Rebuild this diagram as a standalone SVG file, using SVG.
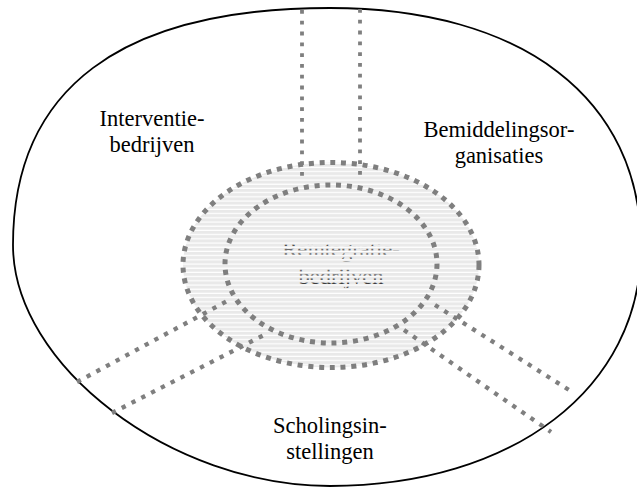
<svg xmlns="http://www.w3.org/2000/svg" width="637" height="487" viewBox="0 0 637 487">
<style>
.lbl{font-family:"Liberation Serif","Times New Roman",serif;font-size:22.5px;fill:#000;text-anchor:middle}
.ring{fill:none;stroke:#7f7f7f;stroke-width:5;stroke-dasharray:5 5.8}
.chan{fill:none;stroke:#7f7f7f;stroke-width:3.8;stroke-dasharray:3.8 7}
.diag{fill:none;stroke:#7f7f7f;stroke-width:4.3;stroke-dasharray:4.3 6.7}
</style>
<defs>
<pattern id="hatch" patternUnits="userSpaceOnUse" width="10" height="4.2">
<rect width="10" height="4.2" fill="#e9e9e9"/>
<rect y="3" width="10" height="1.2" fill="#ffffff"/>
</pattern>
<pattern id="txt" patternUnits="userSpaceOnUse" width="10" height="4.2">
<rect y="1.4" width="10" height="0.9" fill="#000"/>
</pattern>
</defs>
<rect width="637" height="487" fill="#fff"/>
<g id="omgeving">
<path d="M13,245 C13,88.6 120.8,8 330,8 C522.8,8 641,98.8 641,247 C641,388 513.5,486 330,486 C171.5,486 13,365.5 13,245 Z" fill="none" stroke="#000" stroke-width="1.8"/>
</g>
<g id="kern">
<ellipse cx="331" cy="265" rx="148" ry="102.5" fill="url(#hatch)"/>
<text class="lbl" x="341" y="257" style="fill:url(#txt)">Reïntegratie-</text>
<text class="lbl" x="341" y="284" style="fill:url(#txt)">bedrijven</text>
</g>
<g id="connectors">
<line class="chan" x1="302" y1="10" x2="302" y2="178"/>
<line class="chan" x1="360" y1="9" x2="360" y2="178"/>
<line class="diag" x1="77" y1="382" x2="229" y2="300"/>
<line class="diag" x1="112" y1="413" x2="266" y2="334"/>
<line class="diag" x1="435" y1="305" x2="569" y2="390"/>
<line class="diag" x1="404" y1="330" x2="551" y2="432"/>
</g>
<g id="ringen">
<ellipse class="ring" cx="331" cy="265" rx="148" ry="102.5"/>
<ellipse class="ring" cx="331" cy="264" rx="106" ry="79"/>
</g>
<g id="interventie">
<text class="lbl" x="152" y="126">Interventie-</text>
<text class="lbl" x="152" y="152">bedrijven</text>
</g>
<g id="bemiddeling">
<text class="lbl" x="499" y="137">Bemiddelingsor-</text>
<text class="lbl" x="499" y="163">ganisaties</text>
</g>
<g id="scholing">
<text class="lbl" x="330" y="433">Scholingsin-</text>
<text class="lbl" x="330" y="459">stellingen</text>
</g>
</svg>
